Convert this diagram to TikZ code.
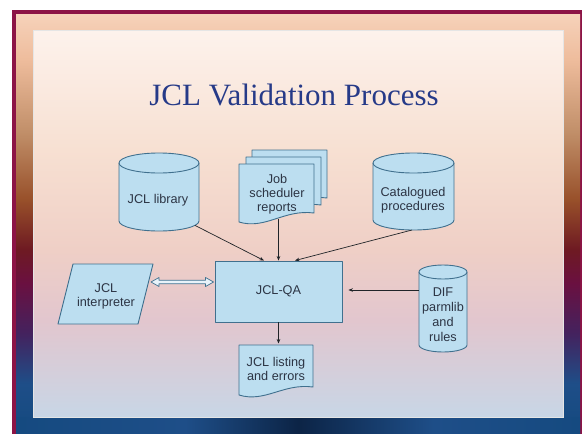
\documentclass[tikz,border=0pt]{standalone}
\usepackage{fontspec}
\setmainfont{Liberation Sans}
\newfontfamily\titlefont{Liberation Serif}
\usetikzlibrary{arrows.meta,calc}

\definecolor{fpeach}{HTML}{F6D2BA}
\definecolor{fpeachb}{HTML}{EEBC9C}
\definecolor{ftan}{HTML}{C08E68}
\definecolor{fbrown}{HTML}{98502A}
\definecolor{fred}{HTML}{6E1A22}
\definecolor{fmaroon}{HTML}{6A1040}
\definecolor{fpurple}{HTML}{44225E}
\definecolor{fblueb}{HTML}{1E4E88}
\definecolor{fblue}{HTML}{154A80}
\definecolor{fnavy}{HTML}{0C2446}
\definecolor{rimcol}{HTML}{8C1446}
\definecolor{pa}{HTML}{FDF2EC}
\definecolor{pb}{HTML}{F7E0D2}
\definecolor{pc}{HTML}{EFCFC6}
\definecolor{pd}{HTML}{E2C6CE}
\definecolor{pe}{HTML}{C8D6E6}
\definecolor{shapefill}{HTML}{BCDEF0}
\definecolor{shapeline}{HTML}{40708E}
\definecolor{txtcol}{HTML}{2C3444}
\definecolor{titleblue}{HTML}{263A88}
\definecolor{arrcol}{HTML}{202428}
\definecolor{dblfill}{HTML}{E8F3FA}

\pgfdeclareverticalshading{frameshade}{100bp}{color(0bp)=(fblue); color(25.8bp)=(fblue); color(31bp)=(fblueb); color(37bp)=(fpurple); color(43bp)=(fmaroon); color(47bp)=(fred); color(52.9bp)=(fbrown); color(60.8bp)=(ftan); color(69.5bp)=(fpeachb); color(75bp)=(fpeach); color(100bp)=(fpeach)}
\pgfdeclareverticalshading{panelshade}{100bp}{color(0bp)=(pe); color(25bp)=(pe); color(37.5bp)=(pd); color(46.6bp)=(pc); color(59.5bp)=(pb); color(75bp)=(pa); color(100bp)=(pa)}
\pgfdeclarehorizontalshading{bandshade}{100bp}{color(0bp)=(fblue); color(25bp)=(fblue); color(40bp)=(fblueb); color(50bp)=(fnavy); color(62bp)=(fblueb); color(75bp)=(fblue); color(100bp)=(fblue)}

% cylinder: x1 x2 ytop ybottom ry
\newcommand{\mycyl}[5]{%
  \draw[shp] ({#1},{#3+#5}) -- ({#1},{#4-#5})
    .. controls ({#1},{#4-#5+0.5523*#5}) and ({(#1+#2)/2-0.5523*(#2-#1)/2},{#4}) .. ({(#1+#2)/2},{#4})
    .. controls ({(#1+#2)/2+0.5523*(#2-#1)/2},{#4}) and ({#2},{#4-#5+0.5523*#5}) .. ({#2},{#4-#5})
    -- ({#2},{#3+#5})
    .. controls ({#2},{#3+#5-0.5523*#5}) and ({(#1+#2)/2+0.5523*(#2-#1)/2},{#3}) .. ({(#1+#2)/2},{#3})
    .. controls ({(#1+#2)/2-0.5523*(#2-#1)/2},{#3}) and ({#1},{#3+#5-0.5523*#5}) .. ({#1},{#3+#5}) -- cycle;
  \draw[shpline] ({#1},{#3+#5})
    .. controls ({#1},{#3+#5+0.5523*#5}) and ({(#1+#2)/2-0.5523*(#2-#1)/2},{#3+2*#5}) .. ({(#1+#2)/2},{#3+2*#5})
    .. controls ({(#1+#2)/2+0.5523*(#2-#1)/2},{#3+2*#5}) and ({#2},{#3+#5+0.5523*#5}) .. ({#2},{#3+#5});
}
% document: x1 x2 ytop yleftbottom yrightbottom
\newcommand{\mydoc}[5]{%
  \draw[shp] ({#1},{#3}) -- ({#2},{#3}) -- ({#2},{#5})
    .. controls ({#1+0.6*(#2-#1)},{#5-4}) and ({#1+0.35*(#2-#1)},{#4+8}) .. ({#1},{#4}) -- cycle;
}

\begin{document}
\begin{tikzpicture}[x=1pt,y=-1pt,
  shp/.style={fill=shapefill, draw=shapeline, line width=0.9pt, line join=round},
  shpline/.style={draw=shapeline, line width=0.9pt},
  lbl/.style={font=\fontsize{12.7}{14}\selectfont, text=txtcol, align=center, inner sep=0pt},
  arr/.style={draw=arrcol, line width=0.7pt, -{Stealth[length=4.5pt,width=3.6pt]}},
  dblarr/.style={fill=dblfill, draw=shapeline, line width=0.7pt, line join=round}]
\useasboundingbox (0,0) rectangle (582,434);
\fill[white] (0,0) rectangle (582,434);
\fill[rimcol] (12,10) rectangle (582,434);
\shade[shading=frameshade] (16,14) rectangle (580,434);
\shade[shading=bandshade] (16,417) rectangle (580,434);
\shade[shading=panelshade] (33,30) rectangle (563,417);
\draw[draw=white!80!gray, line width=1pt] (33,30) rectangle (563,417);

\node[font=\titlefont\fontsize{31}{36}\selectfont, text=titleblue, anchor=base] (title) at (294,105) {JCL Validation Process};

% shapes
\mycyl{119}{199}{153}{231}{10}
\mycyl{373}{454}{153}{230}{10}
\mycyl{419}{467}{265}{352}{7}
\mydoc{252}{327}{150}{204}{198}
\mydoc{246}{321}{157}{211}{205}
\mydoc{239}{314}{164}{222}{213}
\mydoc{239}{313}{345}{395}{387}
\draw[shp] (73,264) -- (153,264) -- (138,324) -- (58,324) -- cycle;

% labels / nodes
\node[lbl] (lib) at (158,200) {JCL library};
\node[lbl] (job) at (277,194) {Job\\scheduler\\reports};
\node[lbl] (cat) at (413,200) {Catalogued\\procedures};
\node[lbl] (interp) at (106,296) {JCL\\interpreter};
\node[lbl, font=\fontsize{12.7}{15}\selectfont] (dif) at (443,314.5) {DIF\\parmlib\\and\\rules};
\node[lbl] (listing) at (276,368.5) {JCL listing\\and errors};
\node[shp, lbl, minimum width=127pt, minimum height=61pt] (qa) at (278.5,291.5) {JCL-QA};

% connector end points
\coordinate (libout) at (195,225.4);
\coordinate (jobout) at (278.5,219);
\coordinate (catout) at (412,230);
\coordinate (difout) at (419,290);
\coordinate (listin) at (278.5,345);
\coordinate (qin1) at ($(qa.north)+(-14.5,0)$);
\coordinate (qin3) at ($(qa.north)+(16.5,0)$);
\coordinate (qinr) at ($(qa.east)+(6,-1.5)$);
\coordinate (dA) at (151,282);
\coordinate (dB) at ($(qa.west)+(-1,-9.5)$);

\draw[arr] (libout) -- (qin1);
\draw[arr] (jobout) -- (qa.north);
\draw[arr] (catout) -- (qin3);
\draw[arr] (difout) -- (qinr);
\draw[arr, shorten >=1.5pt] (qa.south) -- (listin);

\draw[dblarr] (dA) -- ($(dA)+(8,-4.5)$) -- ($(dA)+(8,-1.8)$) -- ($(dB)+(-8,-1.8)$) -- ($(dB)+(-8,-4.5)$) -- (dB)
  -- ($(dB)+(-8,4.5)$) -- ($(dB)+(-8,1.8)$) -- ($(dA)+(8,1.8)$) -- ($(dA)+(8,4.5)$) -- cycle;
\end{tikzpicture}
\end{document}
